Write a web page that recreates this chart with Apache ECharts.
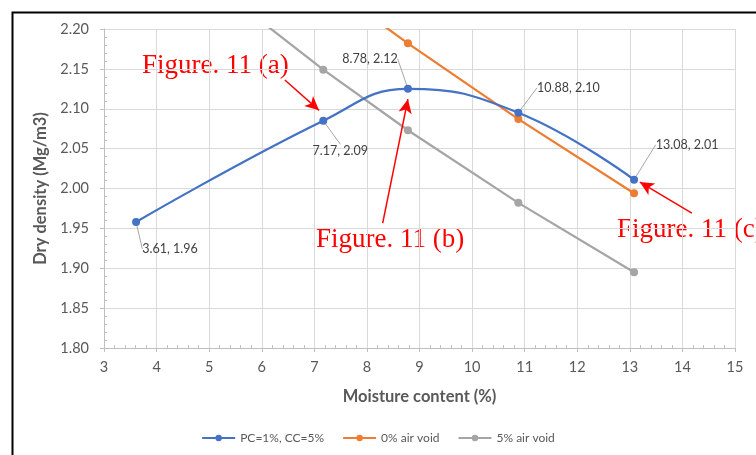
<!DOCTYPE html>
<html>
<head>
<meta charset="utf-8">
<script src="https://cdn.jsdelivr.net/npm/echarts@6/dist/echarts.min.js"></script>
<style>html,body{margin:0;padding:0;background:#fff;}#c{width:756px;height:455px;}</style>
</head>
<body>
<div id="c"></div>
<script>
// Data
var pcLabel = 'PC=1%, CC=5%';
var pcX = [3.61, 7.17, 8.78, 10.88, 13.08];
var pcY = [1.958, 2.085, 2.125, 2.095, 2.011];
var pcText = ['3.61, 1.96', '7.17, 2.09', '8.78, 2.12', '10.88, 2.10', '13.08, 2.01'];
var av0Label = '0% air void';
var av0X = [7.17, 8.78, 10.88, 13.08];
var av0Y = [2.259, 2.182, 2.087, 1.994];
var av5Label = '5% air void';
var av5X = [3.61, 7.17, 8.78, 10.88, 13.08];
var av5Y = [2.332, 2.149, 2.073, 1.982, 1.895];
var xTitle = 'Moisture content (%)';
var yTitle = 'Dry density (Mg/m3)';
var figTexts = ['Figure. 11 (a)', 'Figure. 11 (b)', 'Figure. 11 (c)'];
// arrow start / end in data space
var arrowFrom = [[6.44, 2.136], [8.30, 1.9565], [14.18, 1.969]];
var arrowTo = [[7.09, 2.098], [8.78, 2.112], [13.19, 2.008]];

function pairs(xs, ys){ return xs.map(function(x,i){ return [x, ys[i]]; }); }

// label offsets (pixels) relative to points
var labelOffsets = [[34, 27], [17, 30], [-38, -30], [50, -25], [53, -35]];

var chart = echarts.init(document.getElementById('c'));
var font = 'Lato, "Open Sans", sans-serif';
var serif = '27px "Liberation Serif", "DejaVu Serif", serif';
var option = {
  animation: false,
  textStyle: {fontFamily: font},
  grid: {left: 104, right: 21, top: 29, bottom: 107, containLabel: false},
  xAxis: {
    type: 'value', min: 3, max: 15, interval: 1,
    name: xTitle, nameLocation: 'middle', nameGap: 40,
    nameTextStyle: {fontFamily: font, fontWeight: 'bold', fontSize: 16.5, color: '#595959'},
    axisLine: {show: true, lineStyle: {color: '#bfbfbf', width: 1}},
    axisTick: {show: true, length: 4, lineStyle: {color: '#bfbfbf'}},
    minorTick: {show: true, splitNumber: 5, length: -3, lineStyle: {color: '#bfbfbf'}},
    axisLabel: {color: '#595959', fontSize: 14.5, fontFamily: font, margin: 12},
    splitLine: {show: true, lineStyle: {color: '#d9d9d9', width: 1}}
  },
  yAxis: {
    type: 'value', min: 1.8, max: 2.2, interval: 0.05,
    name: yTitle, nameLocation: 'middle', nameGap: 51,
    nameTextStyle: {fontFamily: font, fontWeight: 'bold', fontSize: 16.5, color: '#595959'},
    axisLine: {show: true, lineStyle: {color: '#bfbfbf', width: 1}},
    axisTick: {show: true, length: 4, lineStyle: {color: '#bfbfbf'}},
    minorTick: {show: true, splitNumber: 5, length: -3, lineStyle: {color: '#bfbfbf'}},
    axisLabel: {color: '#595959', fontSize: 14.5, fontFamily: font, margin: 15,
      formatter: function(v){ return v.toFixed(2); }},
    splitLine: {show: true, lineStyle: {color: '#d9d9d9', width: 1}}
  },
  legend: {
    bottom: 6, left: 'center', itemWidth: 33, itemHeight: 8, itemGap: 18,
    textStyle: {color: '#595959', fontSize: 12, fontFamily: font},
    data: [pcLabel, av0Label, av5Label]
  },
  series: [
    {
      name: av5Label, type: 'line', data: pairs(av5X, av5Y), clip: true,
      symbol: 'circle', symbolSize: 8, color: '#a5a5a5',
      lineStyle: {width: 2.25, color: '#a5a5a5'}, z: 2
    },
    {
      name: av0Label, type: 'line', data: pairs(av0X, av0Y), clip: true,
      symbol: 'circle', symbolSize: 8, color: '#ed7d31',
      lineStyle: {width: 2.25, color: '#ed7d31'}, z: 3
    },
    {
      name: pcLabel, type: 'line', data: pairs(pcX, pcY), clip: true,
      smooth: 0.45,
      symbol: 'circle', symbolSize: 8, color: '#4472c4',
      lineStyle: {width: 2.25, color: '#4472c4'}, z: 4,
      label: {show: true, position: 'inside', color: '#404040', fontSize: 12.5, fontFamily: font,
        formatter: function(p){ return pcText[p.dataIndex]; }},
      labelLine: {show: true, lineStyle: {color: '#a6a6a6', width: 1}},
      labelLayout: function(p){
        var o = labelOffsets[p.dataIndex];
        return {dx: o[0], dy: o[1]};
      },
      markLine: {
        silent: true, symbol: ['none', 'arrow'], symbolSize: [10, 14],
        lineStyle: {color: '#ff0000', width: 1.5, type: 'solid'},
        label: {show: false},
        data: arrowFrom.map(function(f, i){ return [{coord: f}, {coord: arrowTo[i]}]; })
      }
    }
  ],
  graphic: [
    {type: 'rect', left: 10, top: 10, shape: {width: 800, height: 500}, style: {fill: 'none', stroke: '#000', lineWidth: 2}, silent: true},
    {type: 'text', left: 142, top: 52, style: {text: figTexts[0], fill: '#ff0000', font: serif}},
    {type: 'text', left: 316, top: 226, style: {text: figTexts[1], fill: '#ff0000', font: serif}},
    {type: 'text', left: 617, top: 216, style: {text: figTexts[2], fill: '#ff0000', font: serif}}
  ]
};
chart.setOption(option);
</script>
</body>
</html>
